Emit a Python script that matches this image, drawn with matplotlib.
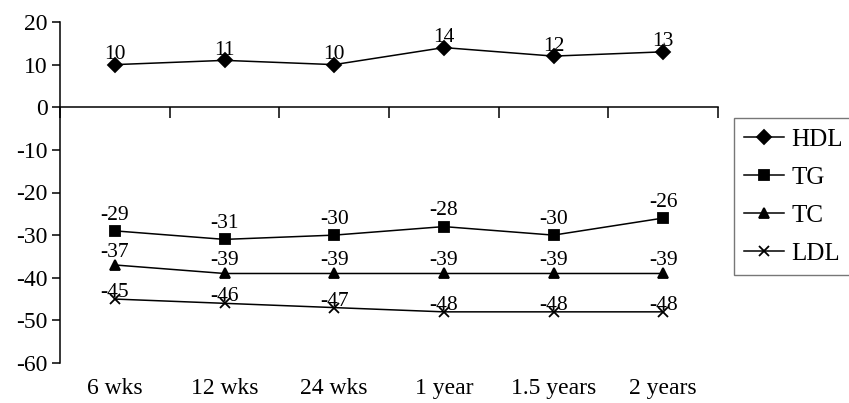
import matplotlib.pyplot as plt
import numpy as np

plt.rcParams["font.family"] = ["Liberation Serif", "DejaVu Serif"]
plt.rcParams["axes.unicode_minus"] = False

categories = ["6 wks", "12 wks", "24 wks", "1 year", "1.5 years", "2 years"]
hdl = [10, 11, 10, 14, 12, 13]
tg = [-29, -31, -30, -28, -30, -26]
tc = [-37, -39, -39, -39, -39, -39]
ldl = [-45, -46, -47, -48, -48, -48]

# name, values, marker, marker size, label offset (points above the point)
series = [
    ("HDL", hdl, "D", 7, 4),
    ("TG", tg, "s", 7, 8),
    ("TC", tc, "^", 7.5, 6),
    ("LDL", ldl, "x", 7, 1.5),
]

fig = plt.figure(figsize=(8.49, 4.03), dpi=100)
ax = fig.add_axes([0.0707, 1 - 363 / 403, 0.775, 341 / 403])

x = np.arange(len(categories))
for name, vals, marker, ms, off in series:
    ax.plot(x, vals, color="black", linewidth=1.1, marker=marker,
            markersize=ms, markeredgewidth=1.3, label=name)
    for xi, v in zip(x, vals):
        ax.annotate(str(v), (xi, v), xytext=(0, off), textcoords="offset points",
                    ha="center", va="baseline", fontsize=15.5)

ax.set_xlim(-0.5, len(categories) - 0.5)
ax.set_ylim(-60, 20)
ax.set_yticks(range(-60, 21, 10))
ax.tick_params(axis="y", direction="out", length=6, width=1.1, labelsize=17, pad=3)

for s in ["top", "right"]:
    ax.spines[s].set_visible(False)
ax.spines["left"].set_linewidth(1.1)
ax.spines["bottom"].set_position(("data", 0))
ax.spines["bottom"].set_linewidth(1.1)
ax.set_xticks(np.arange(len(categories) + 1) - 0.5)
ax.set_xticklabels([])
ax.tick_params(axis="x", direction="out", length=8, width=1.1)

sec = ax.secondary_xaxis("bottom")
sec.set_xticks(x)
sec.set_xticklabels(categories)
sec.spines["bottom"].set_visible(False)
sec.tick_params(axis="x", length=0, labelsize=17, pad=11)

leg = fig.legend(loc="upper left", bbox_to_anchor=(734 / 849, 1 - 118 / 403),
                 frameon=True, fancybox=False, fontsize=18, handlelength=1.6,
                 labelspacing=0.62, borderpad=0.4, handletextpad=0.3,
                 borderaxespad=0)
leg.get_frame().set_edgecolor("#555555")
leg.get_frame().set_linewidth(1.0)

fig.savefig("out.png", dpi=100)
